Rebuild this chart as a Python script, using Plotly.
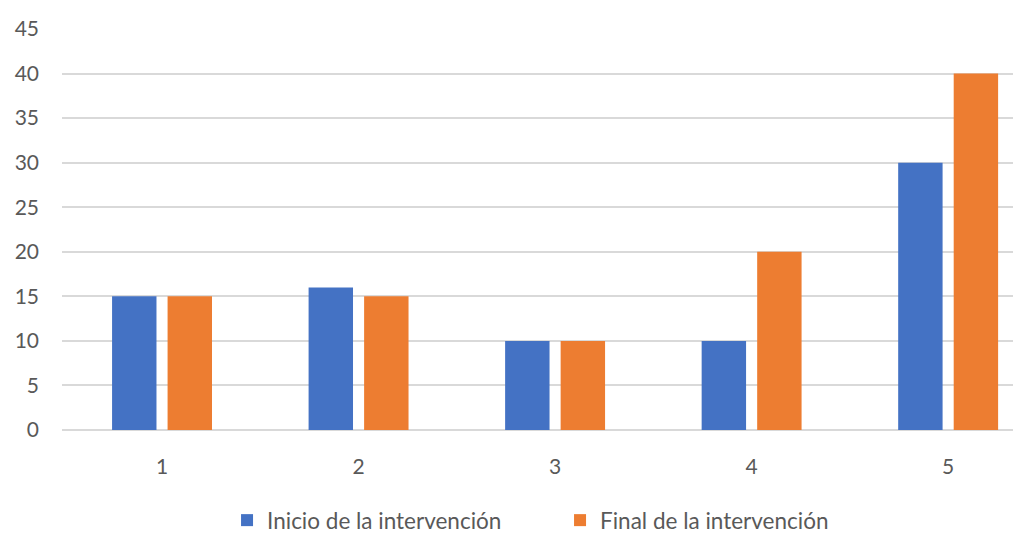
import plotly.graph_objects as go

# Categories and series values
categories = ["1", "2", "3", "4", "5"]
inicio = [15, 16, 10, 10, 30]
final = [15, 15, 10, 20, 40]
y_ticks = [0, 5, 10, 15, 20, 25, 30, 35, 40, 45]

BLUE = "#4472C4"
ORANGE = "#ED7D31"
TEXT = "#595959"
GRID = "#D9D9D9"
FONT = "Lato, Open Sans, sans-serif"
SIZE = 21

fig = go.Figure()
fig.add_trace(go.Bar(x=categories, y=inicio, name="Inicio de la intervención",
                     marker=dict(color=BLUE, line=dict(width=0))))
fig.add_trace(go.Bar(x=categories, y=final, name="Final de la intervención",
                     marker=dict(color=ORANGE, line=dict(width=0))))

fig.update_layout(
    width=1013, height=534,
    margin=dict(l=62, r=0, t=29, b=104, autoexpand=False),
    paper_bgcolor="white", plot_bgcolor="white",
    barmode="group", bargap=0.435, bargroupgap=0.2,
    font=dict(family=FONT, size=SIZE, color=TEXT),
    showlegend=True,
    legend=dict(orientation="h", x=0.5237, xanchor="center", y=-0.2257, yanchor="middle",
                font=dict(family=FONT, size=22.5, color=TEXT),
                itemwidth=30, tracegroupgap=0, entrywidthmode="pixels", entrywidth=288),
    hovermode=False,
)
fig.update_xaxes(
    type="category", range=[-0.509, 4.33], automargin=False,
    showgrid=False, showline=False, zeroline=False, ticks="",
    ticklabelstandoff=22,
    tickfont=dict(family=FONT, size=SIZE, color=TEXT),
)
fig.update_yaxes(
    range=[0, 45], tickvals=y_ticks, automargin=False,
    showgrid=True, gridcolor=GRID, gridwidth=1.5,
    zeroline=True, zerolinecolor=GRID, zerolinewidth=1.5,
    showline=False, ticks="",
    ticklabelstandoff=22,
    tickfont=dict(family=FONT, size=SIZE, color=TEXT),
)

fig.write_html("out.html")
